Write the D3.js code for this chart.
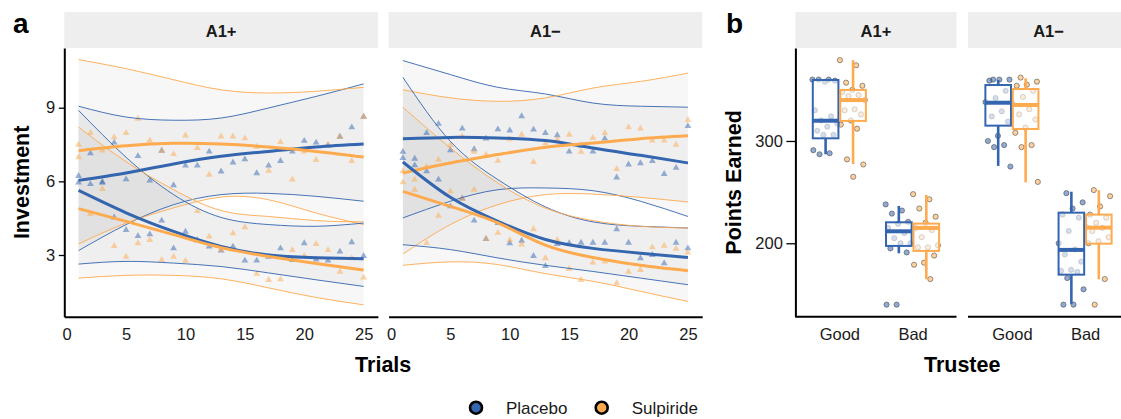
<!DOCTYPE html>
<html>
<head>
<meta charset="utf-8">
<script src="https://cdn.jsdelivr.net/npm/d3@7"></script>
<style>
  body { margin: 0; background: #fff; }
  svg { display: block; font-family: "Liberation Sans", Arial, Helvetica, sans-serif; }
</style>
</head>
<body>
<svg id="chart" width="1121" height="419"></svg>
<script>
/* ---------- data ---------- */

const FACETS = ['A1+', 'A1\u2212'];
const GROUPS = ['Placebo', 'Sulpiride'];
const TRUSTEES = ['Good', 'Bad'];

const TRIALS = [1, 2, 3, 4, 5, 6, 7, 8, 9, 10, 11, 12, 13, 14, 15, 16, 17, 18, 19, 20, 21, 22, 23, 24, 25];
const FIT_TRIALS = [1, 5, 9, 13, 17, 21, 25];
const X_TICKS_A = [0, 5, 10, 15, 20, 25];
const Y_TICKS_A = [3, 6, 9];
const Y_TICKS_B = [200, 300];

// mean investment per trial (panel a)
const A1P_PLACEBO_GOOD = [6.22, 7.14, 5.98, 7.58, 6.08, 7.03, 6.03, 7.25, 5.84, 6.64, 6.64, 7.21, 6.40, 6.77, 6.90, 6.33, 6.64, 6.83, 7.21, 7.65, 7.58, 7.46, 7.82, 8.20, 8.63];
const A1P_PLACEBO_BAD = [5.95, 5.89, 5.94, 4.53, 4.02, 3.77, 3.84, 4.40, 3.27, 3.95, 3.60, 3.34, 3.18, 3.34, 2.77, 2.77, 2.93, 3.27, 2.80, 3.48, 2.82, 2.77, 3.14, 3.52, 2.96];
const A1P_SULP_GOOD = [7.49, 7.97, 7.26, 7.79, 7.97, 8.55, 7.66, 7.25, 7.11, 7.87, 7.36, 6.27, 7.83, 7.83, 7.75, 7.41, 6.43, 7.60, 6.07, 7.21, 6.87, 7.48, 7.82, 6.83, 8.63];
const A1P_SULP_BAD = [6.98, 4.67, 5.69, 3.37, 2.93, 3.48, 3.61, 2.80, 2.93, 2.76, 4.79, 3.75, 3.20, 3.88, 4.13, 2.23, 1.98, 2.01, 3.20, 2.96, 3.45, 3.20, 2.32, 2.87, 2.08];

const A1N_PLACEBO_GOOD = [7.20, 6.92, 7.97, 8.34, 7.27, 8.15, 7.31, 7.74, 8.12, 8.07, 8.65, 8.11, 7.97, 7.88, 7.21, 7.45, 7.21, 7.74, 6.16, 6.69, 6.74, 6.83, 6.30, 6.55, 8.25];
const A1N_PLACEBO_BAD = [6.95, 6.65, 6.41, 6.07, 4.98, 5.30, 4.40, 3.65, 4.30, 3.48, 3.58, 2.96, 2.55, 3.45, 3.48, 3.50, 3.50, 3.50, 4.05, 3.50, 2.87, 3.00, 2.66, 3.50, 3.27];
const A1N_SULP_GOOD = [6.41, 6.07, 6.60, 6.88, 7.47, 7.83, 7.20, 7.09, 6.84, 7.71, 7.90, 6.79, 7.55, 7.71, 7.90, 7.20, 7.77, 7.97, 6.50, 8.20, 8.15, 7.66, 7.66, 7.49, 8.50];
const A1N_SULP_BAD = [5.96, 5.66, 3.49, 4.60, 5.59, 5.29, 5.66, 3.65, 3.90, 3.61, 3.43, 4.05, 2.87, 3.61, 2.43, 1.98, 2.69, 2.73, 1.85, 2.32, 2.39, 3.31, 3.38, 3.25, 3.10];

// smooth fits at FIT_TRIALS: [lower CI, fit, upper CI]
const A1P_PLACEBO_GOOD_FIT = [[3.18, 6.04, 9.06], [4.24, 6.34, 8.62], [5.05, 6.71, 8.49], [5.46, 7.02, 8.58], [5.51, 7.22, 8.99], [5.39, 7.40, 9.46], [5.19, 7.52, 9.97]];
const A1P_PLACEBO_BAD_FIT = [[2.63, 5.63, 8.89], [2.74, 4.72, 6.98], [2.67, 3.96, 5.46], [2.53, 3.35, 4.53], [2.27, 3.00, 4.24], [1.99, 2.89, 4.17], [1.72, 2.85, 4.30]];
const A1P_SULP_GOOD_FIT = [[3.45, 7.25, 10.96], [4.30, 7.45, 10.59], [4.92, 7.55, 10.14], [5.36, 7.52, 9.73], [5.25, 7.40, 9.60], [4.71, 7.22, 9.67], [4.24, 6.99, 9.83]];
const A1P_SULP_BAD_FIT = [[2.06, 4.89, 8.21], [2.17, 4.37, 6.80], [2.17, 3.83, 5.66], [2.03, 3.30, 4.81], [1.66, 2.94, 4.57], [1.27, 2.65, 4.40], [0.97, 2.39, 4.35]];

const A1N_PLACEBO_GOOD_FIT = [[4.51, 7.74, 10.92], [5.19, 7.79, 10.35], [5.66, 7.77, 9.83], [5.73, 7.66, 9.56], [5.62, 7.36, 9.19], [5.19, 7.06, 9.06], [4.57, 6.75, 9.02]];
const A1N_PLACEBO_BAD_FIT = [[3.42, 6.79, 10.24], [3.22, 5.35, 7.63], [2.88, 4.37, 6.07], [2.58, 3.63, 4.96], [2.33, 3.27, 4.35], [2.06, 3.07, 4.17], [1.79, 2.90, 4.10]];
const A1N_SULP_GOOD_FIT = [[3.04, 6.34, 9.73], [4.24, 6.75, 9.40], [5.05, 7.09, 9.26], [5.46, 7.39, 9.40], [5.48, 7.56, 9.80], [5.35, 7.74, 10.07], [5.16, 7.86, 10.41]];
const A1N_SULP_BAD_FIT = [[2.58, 5.59, 9.02], [2.72, 4.98, 7.36], [2.61, 4.31, 5.93], [2.24, 3.40, 4.91], [1.93, 2.90, 4.40], [1.52, 2.58, 4.17], [1.11, 2.36, 4.10]];

// points earned per participant (panel b)
const B_A1P_GOOD_PLACEBO = [360, 360, 360, 359, 358, 330, 324, 320, 317, 314, 310, 306, 306, 291, 288, 287];
const B_A1P_GOOD_SULP = [379, 374, 357, 354, 350, 348, 345, 344, 340, 331, 330, 326, 320, 316, 312, 282, 277, 265];
const B_A1P_BAD_PLACEBO = [238, 232, 229, 221, 219, 215, 210, 205, 200, 200, 195, 191, 140, 140];
const B_A1P_BAD_SULP = [248, 243, 234, 226, 220, 215, 213, 206, 198, 196, 196, 188, 181, 179, 165];
const B_A1N_GOOD_PLACEBO = [360, 360, 360, 359, 349, 342, 338, 329, 324, 319, 305, 300, 296, 294, 275];
const B_A1N_GOOD_SULP = [362, 358, 355, 354, 349, 343, 336, 331, 326, 321, 313, 308, 296, 294, 260];
const B_A1N_BAD_PLACEBO = [249, 240, 234, 228, 225, 212, 200, 194, 189, 182, 174, 173, 172, 166, 155, 140, 140];
const B_A1N_BAD_SULP = [252, 246, 236, 228, 225, 220, 216, 215, 212, 206, 202, 200, 165, 140];

// boxplot stats: [lower whisker, q1, median, q3, upper whisker]
const BOX_A1P_GOOD_PLACEBO = [287, 302.6, 319.8, 359.6, 359.6];
const BOX_A1P_GOOD_SULP = [277.5, 319.6, 340, 349.9, 379];
const BOX_A1P_BAD_PLACEBO = [190.2, 197.4, 211.7, 220.5, 236.5];
const BOX_A1P_BAD_SULP = [164.8, 192.5, 215, 219.2, 247.2];
const BOX_A1N_GOOD_PLACEBO = [275.6, 315, 337.4, 354.7, 359.6];
const BOX_A1N_GOOD_SULP = [259.6, 311.7, 335.2, 350.8, 361.3];
const BOX_A1N_BAD_PLACEBO = [140.7, 169.3, 193.5, 229.9, 250.4];
const BOX_A1N_BAD_SULP = [164.8, 199.6, 215.3, 228, 252];

/* ---------- styling ---------- */

const BLUE = '#3465AF';
const ORANGE = '#FEAA4F';
const COLOUR = { Placebo: BLUE, Sulpiride: ORANGE };
const STRIP_FILL = '#eeeeee';
const TEXT = '#1a1a1a';

const TOP = 48, BOTTOM = 316.7;
const STRIP_TOP = 12;

const svg = d3.select('#chart');

/* ---------- panel a: investment over trials ---------- */

const aPanels = [
  {
    facet: FACETS[0], x0: 64.3, x1: 377.9, yAxis: true,
    series: [
      { group: 'Placebo', pts: A1P_PLACEBO_GOOD, fit: A1P_PLACEBO_GOOD_FIT },
      { group: 'Sulpiride', pts: A1P_SULP_GOOD, fit: A1P_SULP_GOOD_FIT },
      { group: 'Placebo', pts: A1P_PLACEBO_BAD, fit: A1P_PLACEBO_BAD_FIT },
      { group: 'Sulpiride', pts: A1P_SULP_BAD, fit: A1P_SULP_BAD_FIT },
    ],
  },
  {
    facet: FACETS[1], x0: 388.6, x1: 702.2, yAxis: false,
    series: [
      { group: 'Placebo', pts: A1N_PLACEBO_GOOD, fit: A1N_PLACEBO_GOOD_FIT },
      { group: 'Sulpiride', pts: A1N_SULP_GOOD, fit: A1N_SULP_GOOD_FIT },
      { group: 'Placebo', pts: A1N_PLACEBO_BAD, fit: A1N_PLACEBO_BAD_FIT },
      { group: 'Sulpiride', pts: A1N_SULP_BAD, fit: A1N_SULP_BAD_FIT },
    ],
  },
];

const yA = d3.scaleLinear().domain([0.487, 11.432]).range([BOTTOM, TOP]);

function drawStrip(x0, x1, label) {
  svg.append('rect')
    .attr('x', x0).attr('y', STRIP_TOP)
    .attr('width', x1 - x0).attr('height', TOP - STRIP_TOP)
    .attr('fill', STRIP_FILL);
  svg.append('text')
    .attr('x', (x0 + x1) / 2).attr('y', 37)
    .attr('text-anchor', 'middle')
    .attr('font-size', '16.5px').attr('font-weight', 'bold')
    .attr('fill', TEXT)
    .text(label);
}

function styleAxis(g) {
  g.select('.domain').attr('stroke', '#000').attr('stroke-width', 2);
  g.selectAll('.tick line').attr('stroke', '#000').attr('stroke-width', 1.3);
  g.selectAll('.tick text')
    .attr('fill', TEXT)
    .attr('font-size', '16.5px')
    .attr('font-family', '"Liberation Sans", Arial, sans-serif');
}

aPanels.forEach((p, i) => {
  const x = d3.scaleLinear().domain([-0.2, 26.2]).range([p.x0, p.x1]);
  drawStrip(p.x0, p.x1, p.facet);

  const clipId = 'clipA' + i;
  svg.append('clipPath').attr('id', clipId)
    .append('rect').attr('x', p.x0).attr('y', TOP)
    .attr('width', p.x1 - p.x0).attr('height', BOTTOM - TOP);
  const g = svg.append('g').attr('clip-path', `url(#${clipId})`);

  const area = d3.area()
    .x((d, j) => x(FIT_TRIALS[j]))
    .y0(d => yA(d[0]))
    .y1(d => yA(d[2]))
    .curve(d3.curveNatural);
  const lineAt = k => d3.line()
    .x((d, j) => x(FIT_TRIALS[j]))
    .y(d => yA(d[k]))
    .curve(d3.curveNatural);

  // ribbons
  p.series.forEach(s => {
    g.append('path').attr('d', area(s.fit))
      .attr('fill', '#999999').attr('fill-opacity', 0.075);
  });

  // trial means
  const tri = d3.symbol(d3.symbolTriangle, 20);
  p.series.forEach(s => {
    g.append('g').selectAll('path')
      .data(s.pts)
      .enter().append('path')
      .attr('d', tri)
      .attr('transform', (d, j) => `translate(${x(TRIALS[j])},${yA(d)})`)
      .attr('fill', COLOUR[s.group])
      .attr('fill-opacity', 0.5);
  });

  // CI bounds
  p.series.forEach(s => {
    [0, 2].forEach(k => {
      g.append('path').attr('d', lineAt(k)(s.fit))
        .attr('fill', 'none')
        .attr('stroke', COLOUR[s.group])
        .attr('stroke-opacity', 0.9)
        .attr('stroke-width', 1);
    });
  });

  // fitted curves
  p.series.forEach(s => {
    g.append('path').attr('d', lineAt(1)(s.fit))
      .attr('fill', 'none')
      .attr('stroke', COLOUR[s.group])
      .attr('stroke-width', 3);
  });

  // x axis (no ticks)
  const xa = svg.append('g')
    .attr('transform', `translate(0,${BOTTOM})`)
    .call(d3.axisBottom(x).tickValues(X_TICKS_A).tickSize(0).tickSizeOuter(0).tickPadding(11.6));
  styleAxis(xa);

  if (p.yAxis) {
    const ya = svg.append('g')
      .attr('transform', `translate(${p.x0},0)`)
      .call(d3.axisLeft(yA).tickValues(Y_TICKS_A).tickSize(5.5).tickSizeOuter(0).tickPadding(3.5));
    styleAxis(ya);
  }
});

/* ---------- panel b: points earned ---------- */

const bPanels = [
  {
    facet: FACETS[0], x0: 795.4, x1: 956.5, yAxis: true,
    boxes: [
      { trustee: 'Good', group: 'Placebo', pts: B_A1P_GOOD_PLACEBO, stats: BOX_A1P_GOOD_PLACEBO },
      { trustee: 'Good', group: 'Sulpiride', pts: B_A1P_GOOD_SULP, stats: BOX_A1P_GOOD_SULP },
      { trustee: 'Bad', group: 'Placebo', pts: B_A1P_BAD_PLACEBO, stats: BOX_A1P_BAD_PLACEBO },
      { trustee: 'Bad', group: 'Sulpiride', pts: B_A1P_BAD_SULP, stats: BOX_A1P_BAD_SULP },
    ],
  },
  {
    facet: FACETS[1], x0: 968, x1: 1129, yAxis: false,
    boxes: [
      { trustee: 'Good', group: 'Placebo', pts: B_A1N_GOOD_PLACEBO, stats: BOX_A1N_GOOD_PLACEBO },
      { trustee: 'Good', group: 'Sulpiride', pts: B_A1N_GOOD_SULP, stats: BOX_A1N_GOOD_SULP },
      { trustee: 'Bad', group: 'Placebo', pts: B_A1N_BAD_PLACEBO, stats: BOX_A1N_BAD_PLACEBO },
      { trustee: 'Bad', group: 'Sulpiride', pts: B_A1N_BAD_SULP, stats: BOX_A1N_BAD_SULP },
    ],
  },
];

const yB = d3.scaleLinear().domain([128.2, 390.9]).range([BOTTOM, TOP]);

bPanels.forEach((p, i) => {
  const x = d3.scalePoint().domain(TRUSTEES).range([p.x0, p.x1]).padding(0.6);
  const step = x.step();
  const dodge = { Placebo: -0.1875 * step, Sulpiride: 0.1875 * step };
  const boxW = 0.35 * step;

  drawStrip(p.x0, p.x1, p.facet);

  // jittered participants (deterministic spread)
  p.boxes.forEach(b => {
    const cx = x(b.trustee) + dodge[b.group];
    svg.append('g').selectAll('circle')
      .data(b.pts)
      .enter().append('circle')
      .attr('cx', (d, j) => cx + (((j * 0.618034 + 0.31 * i) % 1) - 0.5) * 0.36 * step)
      .attr('cy', d => yB(d))
      .attr('r', 2.6)
      .attr('fill', COLOUR[b.group])
      .attr('fill-opacity', 0.55)
      .attr('stroke', '#444')
      .attr('stroke-opacity', 0.7)
      .attr('stroke-width', 0.8);
  });

  // boxes
  p.boxes.forEach(b => {
    const cx = x(b.trustee) + dodge[b.group];
    const [lo, q1, med, q3, hi] = b.stats;
    const c = COLOUR[b.group];
    const g = svg.append('g');
    g.append('line').attr('x1', cx).attr('x2', cx)
      .attr('y1', yB(q3)).attr('y2', yB(hi))
      .attr('stroke', c).attr('stroke-width', 2.6);
    g.append('line').attr('x1', cx).attr('x2', cx)
      .attr('y1', yB(q1)).attr('y2', yB(lo))
      .attr('stroke', c).attr('stroke-width', 2.6);
    g.append('rect')
      .attr('x', cx - boxW / 2).attr('y', yB(q3))
      .attr('width', boxW).attr('height', yB(q1) - yB(q3))
      .attr('fill', '#fff').attr('fill-opacity', 0.6)
      .attr('stroke', c).attr('stroke-width', 2);
    g.append('line')
      .attr('x1', cx - boxW / 2).attr('x2', cx + boxW / 2)
      .attr('y1', yB(med)).attr('y2', yB(med))
      .attr('stroke', c).attr('stroke-width', 4);
  });

  const xa = svg.append('g')
    .attr('transform', `translate(0,${BOTTOM})`)
    .call(d3.axisBottom(x).tickSize(0).tickSizeOuter(0).tickPadding(11.6));
  styleAxis(xa);
  xa.select('.domain').attr('d', `M${p.x0},0H${p.x1}`);

  if (p.yAxis) {
    const ya = svg.append('g')
      .attr('transform', `translate(${p.x0},0)`)
      .call(d3.axisLeft(yB).tickValues(Y_TICKS_B).tickSize(9).tickSizeOuter(0).tickPadding(3.5));
    styleAxis(ya);
  }
});

/* ---------- titles, panel letters, legend ---------- */

function title(txt, x, y, rotate) {
  svg.append('text')
    .attr('transform', `translate(${x},${y})` + (rotate ? ' rotate(-90)' : ''))
    .attr('text-anchor', 'middle')
    .attr('font-size', '21.5px').attr('font-weight', 'bold')
    .attr('fill', '#000')
    .text(txt);
}
title('Trials', 383.2, 372, false);
title('Trustee', 962.2, 372, false);
title('Investment', 28.5, (TOP + BOTTOM) / 2, true);
title('Points Earned', 740.5, (TOP + BOTTOM) / 2, true);

[['a', 13], ['b', 726]].forEach(([t, x]) => {
  svg.append('text').attr('x', x).attr('y', 33)
    .attr('font-size', '28px').attr('font-weight', 'bold')
    .attr('fill', '#000').text(t);
});

const legend = svg.append('g');
const legendX = { Placebo: 476, Sulpiride: 601.7 };
GROUPS.forEach(gname => {
  legend.append('circle')
    .attr('cx', legendX[gname]).attr('cy', 407.7).attr('r', 6)
    .attr('fill', COLOUR[gname])
    .attr('stroke', '#000').attr('stroke-width', 2.6);
  legend.append('text')
    .attr('x', legendX[gname] + 30).attr('y', 414)
    .attr('font-size', '17px').attr('fill', TEXT)
    .text(gname);
});
</script>
</body>
</html>
